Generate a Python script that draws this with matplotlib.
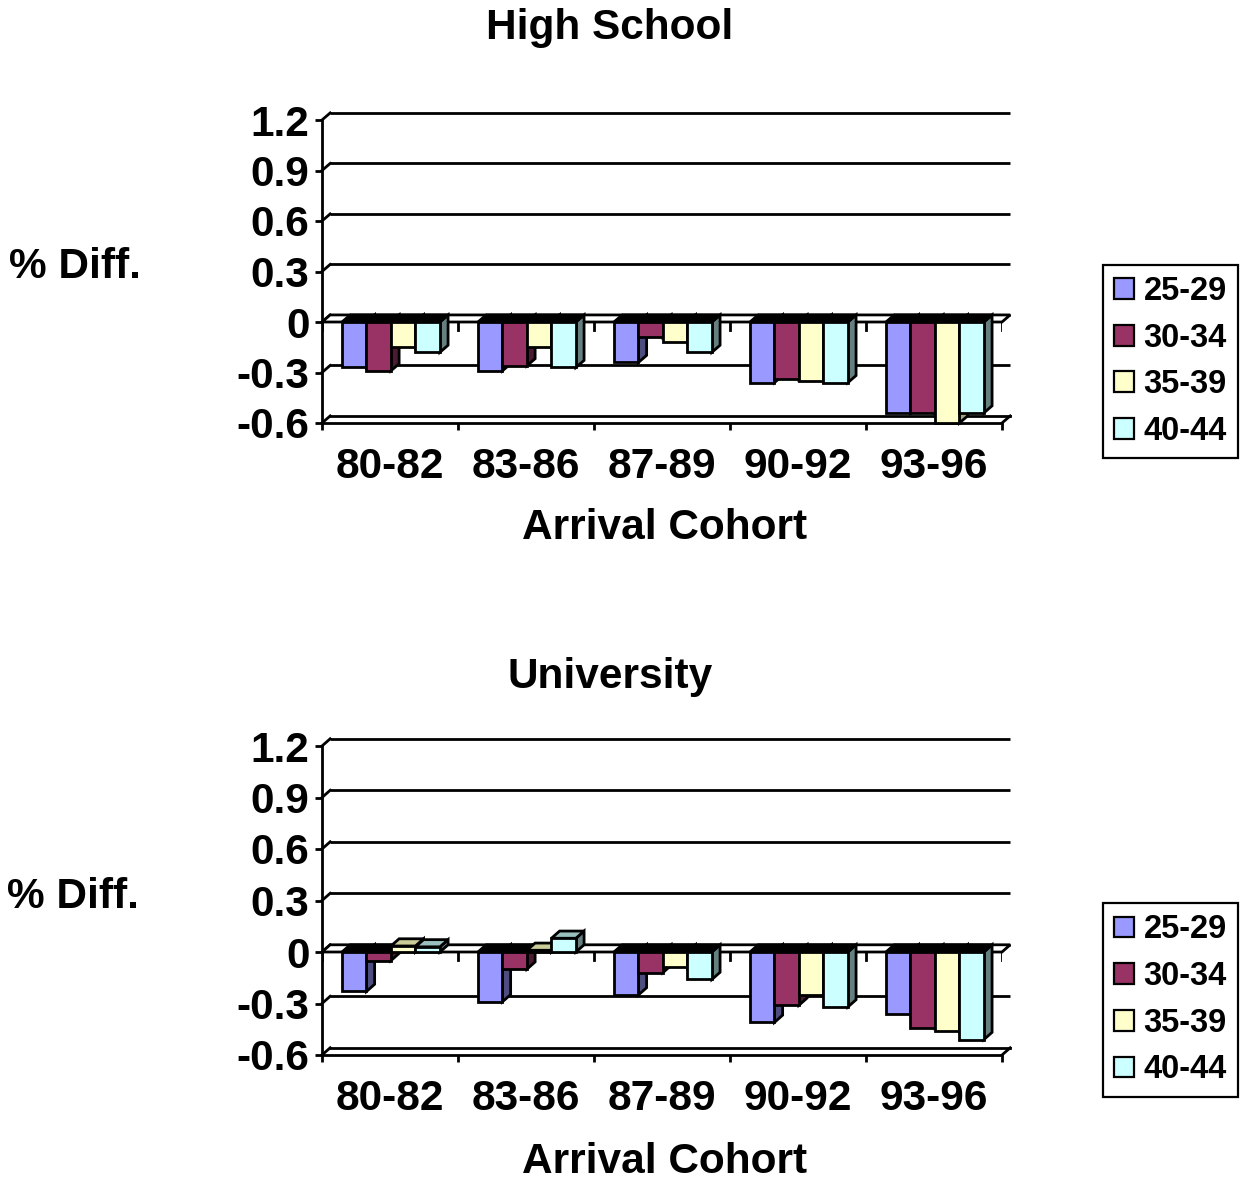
"""
Graphiques en barres pseudo-3D : écart de revenu par cohorte d'arrivée
- Panneau haut : High School
- Panneau bas : University
"""

import numpy as np
import matplotlib
matplotlib.use('Agg')
import matplotlib.pyplot as plt
from matplotlib.patches import Polygon, Rectangle

matplotlib.rcParams['font.family'] = ['Liberation Sans', 'DejaVu Sans']
matplotlib.rcParams['font.weight'] = 'bold'

# ============================================================
# Données
# ============================================================

cohorts = ["80-82", "83-86", "87-89", "90-92", "93-96"]
age_groups = ["25-29", "30-34", "35-39", "40-44"]

# valeurs par groupe d'âge (une liste par série, une valeur par cohorte)
hs_25_29 = [-0.27, -0.29, -0.24, -0.36, -0.54]
hs_30_34 = [-0.29, -0.26, -0.09, -0.34, -0.54]
hs_35_39 = [-0.15, -0.15, -0.12, -0.35, -0.60]
hs_40_44 = [-0.18, -0.27, -0.18, -0.36, -0.54]

uni_25_29 = [-0.23, -0.29, -0.25, -0.41, -0.36]
uni_30_34 = [-0.05, -0.10, -0.12, -0.31, -0.44]
uni_35_39 = [0.035, 0.01, -0.09, -0.25, -0.46]
uni_40_44 = [0.03, 0.08, -0.16, -0.32, -0.51]

y_ticks = [-0.6, -0.3, 0, 0.3, 0.6, 0.9, 1.2]
y_tick_labels = ["-0.6", "-0.3", "0", "0.3", "0.6", "0.9", "1.2"]

front_colors = ['#9999FF', '#993366', '#FFFFCC', '#CCFFFF']
side_colors = ['#4D4D80', '#4D1A33', '#A6A67A', '#668080']
top_colors = ['#7A7ACC', '#7A2952', '#CCCC99', '#99BFBF']

# décalage de profondeur (unités de données)
DX = 0.06
DY = 0.042
BAR_W = 0.18
LEFT_GAP = 0.147
LW = 2.0
FS = 30.5


def draw_panel(ax, series, ymin=-0.6, ymax=1.2):
    n_cat = len(cohorts)
    ax.set_xlim(0, n_cat)
    ax.set_ylim(ymin, ymax)

    # grille sur le mur du fond
    for v in y_ticks:
        if v == ymin:
            continue
        ax.plot([DX, n_cat + DX], [v + DY, v + DY], color='black', lw=LW,
                clip_on=False, zorder=1, solid_capstyle='butt')
        ax.plot([0, DX], [v, v + DY], color='black', lw=LW, clip_on=False, zorder=1)

    # plancher à la valeur minimale
    ax.plot([DX, n_cat + DX], [ymin + DY, ymin + DY], color='black', lw=LW,
            clip_on=False, zorder=1)
    ax.plot([0, DX], [ymin, ymin + DY], color='black', lw=LW, clip_on=False, zorder=1)
    ax.plot([n_cat, n_cat + DX], [ymin, ymin + DY], color='black', lw=LW,
            clip_on=False, zorder=1)

    # plan du zéro
    ax.add_patch(Polygon([(0, 0), (n_cat, 0), (n_cat + DX, DY), (DX, DY)],
                         closed=True, facecolor='white', edgecolor='black',
                         lw=LW, zorder=2, clip_on=False))
    for i in range(n_cat + 1):
        ax.plot([i, i], [0, -0.045], color='black', lw=LW, zorder=2)

    # barres, de gauche à droite
    z = 3
    for i in range(n_cat):
        for j, vals in enumerate(series):
            v = vals[i]
            x0 = i + LEFT_GAP + j * BAR_W
            x1 = x0 + BAR_W
            # face latérale
            ax.add_patch(Polygon([(x1, 0), (x1 + DX, DY), (x1 + DX, v + DY), (x1, v)],
                                 closed=True, facecolor=side_colors[j],
                                 edgecolor='black', lw=LW, zorder=z, clip_on=False))
            # face du dessus
            top = max(v, 0)
            tc = top_colors[j] if v > 0 else 'black'
            ax.add_patch(Polygon([(x0, top), (x1, top), (x1 + DX, top + DY), (x0 + DX, top + DY)],
                                 closed=True, facecolor=tc, edgecolor='black',
                                 lw=LW, zorder=z, clip_on=False))
            # face avant
            ax.add_patch(Rectangle((x0, 0), BAR_W, v, facecolor=front_colors[j],
                                   edgecolor='black', lw=LW, zorder=z + 0.5,
                                   clip_on=False))
            z += 1

    # axes
    for s in ['top', 'right']:
        ax.spines[s].set_visible(False)
    for s in ['left', 'bottom']:
        ax.spines[s].set_linewidth(LW)
        ax.spines[s].set_zorder(1)

    ax.set_yticks(y_ticks)
    ax.set_yticklabels(y_tick_labels, fontsize=FS, fontweight='bold')
    ax.set_xticks(range(n_cat + 1))
    ax.set_xticklabels([])
    ax.set_xticks([i + 0.5 for i in range(n_cat)], minor=True)
    ax.set_xticklabels(cohorts, minor=True, fontsize=FS, fontweight='bold')
    ax.tick_params(axis='y', length=5, width=LW, pad=4)
    ax.tick_params(axis='x', which='major', length=5, width=LW)
    ax.tick_params(axis='x', which='minor', length=0, pad=17)
    ax.set_facecolor('none')


def add_legend(fig, y_center):
    handles = [Rectangle((0, 0), 1, 1, facecolor=c, edgecolor='black', lw=1.6)
               for c in front_colors]
    leg = fig.legend(handles, age_groups, loc='center',
                     bbox_to_anchor=(0.9425, y_center),
                     bbox_transform=fig.transFigure,
                     prop={'size': 23.5, 'weight': 'bold'},
                     handlelength=0.6, handleheight=0.6, handletextpad=0.3,
                     labelspacing=0.48, borderpad=0.35, borderaxespad=0,
                     fancybox=False, framealpha=1)
    leg.get_frame().set_edgecolor('black')
    leg.get_frame().set_linewidth(1.6)


# ============================================================
# Figure
# ============================================================

W, H = 1242, 1182
fig = plt.figure(figsize=(W / 100, H / 100), dpi=100)

ax_top = fig.add_axes([322 / W, 1 - 423 / H, 680 / W, (423 - 120) / H])
draw_panel(ax_top, [hs_25_29, hs_30_34, hs_35_39, hs_40_44])

ax_bot = fig.add_axes([322 / W, 1 - 1055 / H, 680 / W, (1055 - 746) / H])
draw_panel(ax_bot, [uni_25_29, uni_30_34, uni_35_39, uni_40_44])

txt = dict(fontsize=FS, fontweight='bold', ha='center', va='center')
fig.text(610 / W, 1 - 28 / H, "High School", **txt)
fig.text(75 / W, 1 - 267 / H, "% Diff.", **txt)
fig.text(665 / W, 1 - 528 / H, "Arrival Cohort", **txt)

fig.text(610 / W, 1 - 677 / H, "University", **txt)
fig.text(73 / W, 1 - 897 / H, "% Diff.", **txt)
fig.text(665 / W, 1 - 1162 / H, "Arrival Cohort", **txt)

add_legend(fig, 1 - 361.5 / H)
add_legend(fig, 1 - 1000 / H)

fig.savefig("out.png", dpi=100)
